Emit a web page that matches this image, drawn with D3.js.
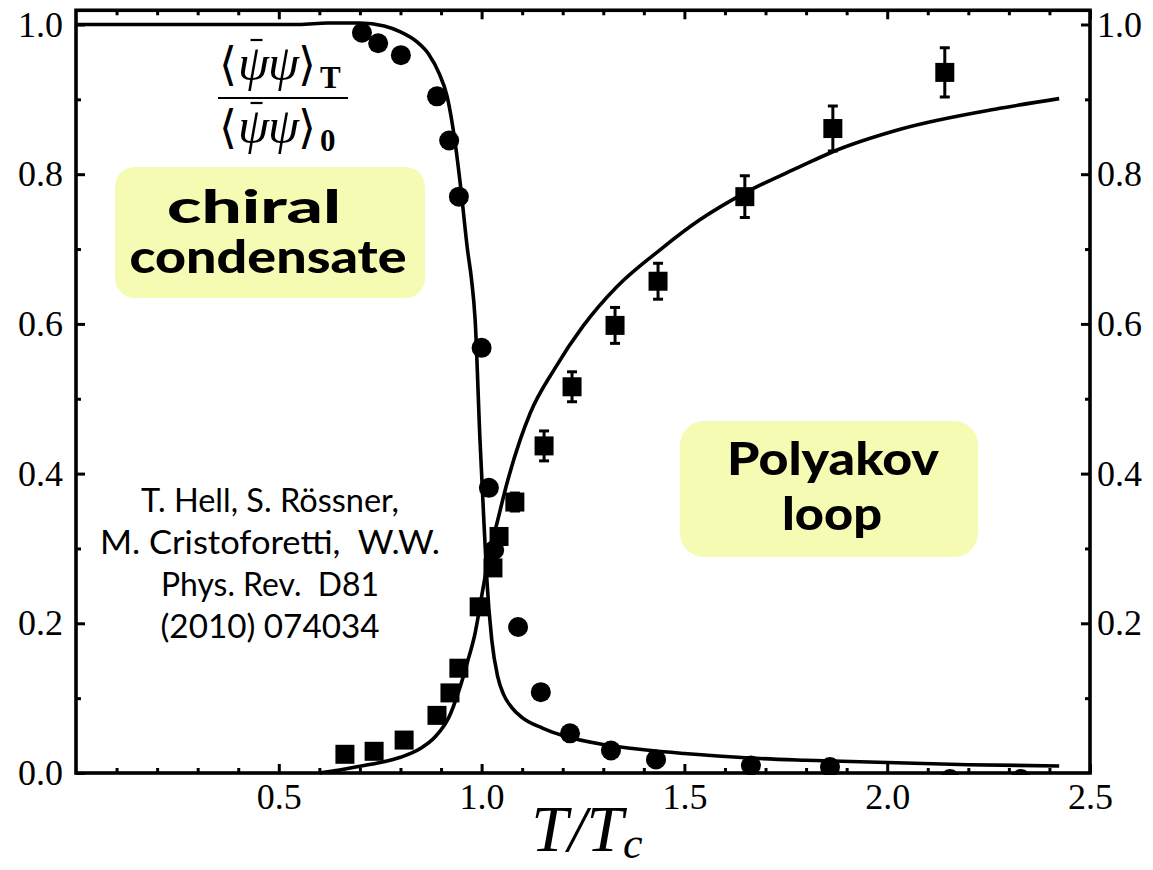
<!DOCTYPE html>
<html>
<head>
<meta charset="utf-8">
<script src="https://cdn.jsdelivr.net/npm/d3@7"></script>
<style>
  body { margin: 0; background: #fff; }
  svg { display: block; }
</style>
</head>
<body>
<svg id="chart" width="1153" height="870"></svg>
<script>
// Lattice data: chiral condensate ratio (circles)
const chiralT     = [0.705, 0.745, 0.801, 0.890, 0.920, 0.944, 1.000, 1.018, 1.031, 1.090, 1.146, 1.218, 1.319, 1.430, 1.664, 1.859, 2.155, 2.330];
const chiralValue = [0.989, 0.975, 0.959, 0.904, 0.845, 0.770, 0.568, 0.381, 0.298, 0.195, 0.108, 0.053, 0.030, 0.018, 0.010, 0.008, -0.008, -0.008];

// Lattice data: Polyakov loop (squares, with error bars)
const polyakovT     = [0.663, 0.735, 0.809, 0.890, 0.922, 0.944, 0.994, 1.028, 1.043, 1.082, 1.154, 1.223, 1.329, 1.435, 1.649, 1.866, 2.142];
const polyakovValue = [0.025, 0.029, 0.044, 0.077, 0.107, 0.140, 0.222, 0.274, 0.316, 0.362, 0.437, 0.516, 0.598, 0.657, 0.770, 0.861, 0.936];
const polyakovErr   = [0, 0, 0, 0, 0, 0, 0, 0, 0.008, 0.012, 0.020, 0.020, 0.024, 0.024, 0.028, 0.030, 0.033];

// Model curves (PNJL)
const chiralCurveT     = [0.00, 0.55, 0.62, 0.70, 0.76, 0.80, 0.84, 0.87, 0.895, 0.915, 0.934, 0.950, 0.965, 0.975, 0.984, 0.996, 1.008, 1.013, 1.025, 1.040, 1.055, 1.075, 1.10, 1.15, 1.20, 1.30, 1.40, 1.50, 1.66, 1.80, 2.00, 2.20, 2.424];
const chiralCurveValue = [1.000, 1.000, 1.002, 1.002, 0.998, 0.990, 0.977, 0.960, 0.935, 0.904, 0.845, 0.775, 0.700, 0.660, 0.606, 0.445, 0.311, 0.258, 0.178, 0.128, 0.104, 0.087, 0.074, 0.060, 0.050, 0.038, 0.031, 0.026, 0.020, 0.017, 0.014, 0.011, 0.0094];

const polyakovCurveT     = [0.60, 0.65, 0.70, 0.75, 0.80, 0.85, 0.885, 0.92, 0.947, 0.965, 0.984, 1.003, 1.021, 1.038, 1.063, 1.095, 1.12, 1.18, 1.25, 1.334, 1.44, 1.538, 1.649, 1.785, 1.866, 2.032, 2.278, 2.424];
const polyakovCurveValue = [0.000, 0.004, 0.009, 0.014, 0.021, 0.033, 0.048, 0.075, 0.115, 0.148, 0.187, 0.245, 0.298, 0.334, 0.388, 0.445, 0.481, 0.540, 0.597, 0.650, 0.699, 0.739, 0.775, 0.810, 0.830, 0.860, 0.888, 0.901];

// Axis ticks
const xTicks      = [0.5, 1.0, 1.5, 2.0, 2.5];
const xMinorTicks = [0.1, 0.2, 0.3, 0.4, 0.6, 0.7, 0.8, 0.9, 1.1, 1.2, 1.3, 1.4, 1.6, 1.7, 1.8, 1.9, 2.1, 2.2, 2.3, 2.4];
const yTicksLeft  = [0.0, 0.2, 0.4, 0.6, 0.8, 1.0];
const yTicksRight = [0.2, 0.4, 0.6, 0.8, 1.0];
const yMinorTicks = [0.1, 0.3, 0.5, 0.7, 0.9];

// Annotations
const authorLines = ["T. Hell, S. Rössner,", "M. Cristoforetti,  W.W.", "Phys. Rev.  D81", "(2010) 074034"];
const chiralLabel = ["chiral", "condensate"];
const polyakovLabel = ["Polyakov", "loop"];

const svg = d3.select("#chart");
const left = 76, right = 1090, bottom = 773;
const x = d3.scaleLinear().domain([0, 2.5]).range([left, right]);
const y = d3.scaleLinear().domain([0, 1]).range([bottom, 24.5]);
const yTop = y(1.019);

const serif = "'Liberation Serif', 'DejaVu Serif', serif";
const sans = "Lato, 'Open Sans', 'DejaVu Sans', sans-serif";

// Yellow label boxes
svg.append("rect").attr("x", 115).attr("y", 167).attr("width", 310).attr("height", 131)
  .attr("rx", 20).attr("fill", "#f5fbb3");
svg.append("rect").attr("x", 680).attr("y", 421).attr("width", 298).attr("height", 136)
  .attr("rx", 24).attr("fill", "#f5fbb3");

const boldLabel = (lines, centers, baselines, widths, size) => {
  lines.forEach((t, i) => {
    svg.append("text").attr("x", centers[i]).attr("y", baselines[i])
      .attr("text-anchor", "middle")
      .attr("font-family", sans).attr("font-weight", 900).attr("font-size", size)
      .attr("textLength", widths[i]).attr("lengthAdjust", "spacingAndGlyphs")
      .text(t);
  });
};
boldLabel(chiralLabel, [254, 268], [223, 273], [174, 277], 46);
boldLabel(polyakovLabel, [833, 832], [475, 530], [212, 100], 46);

// Reference text
const authorWidths = [258, 340, 218, 219];
authorLines.forEach((t, i) => {
  svg.append("text").attr("x", 270).attr("y", 512 + i * 42)
    .attr("text-anchor", "middle")
    .attr("font-family", sans).attr("font-size", 33)
    .style("white-space", "pre")
    .attr("textLength", authorWidths[i]).attr("lengthAdjust", "spacingAndGlyphs")
    .text(t);
});

// Condensate ratio as a fraction
const frac = svg.append("g");
const fs = 50;
const addTerm = (baseline, sub) => {
  const t = frac.append("text").attr("y", baseline)
    .attr("font-family", serif).attr("font-size", fs);
  t.append("tspan").attr("x", 219).attr("font-family", "'DejaVu Serif', serif").attr("font-size", 46).text("⟨");
  t.append("tspan").attr("x", 238).attr("font-style", "italic").text("ψ");
  t.append("tspan").attr("x", 268).attr("font-style", "italic").text("ψ");
  t.append("tspan").attr("x", 298).attr("font-family", "'DejaVu Serif', serif").attr("font-size", 46).text("⟩");
  t.append("tspan").attr("x", 320).attr("font-weight", "bold").attr("font-size", 31).attr("dy", 8).text(sub);
  const ext = t.node().getExtentOfChar(1);
  const bx = ext.x + ext.width * 0.5 + 3;
  frac.append("line").attr("x1", bx - 6).attr("x2", bx + 6)
    .attr("y1", baseline - 40).attr("y2", baseline - 40)
    .attr("stroke", "#000").attr("stroke-width", 2.2);
  return t;
};
addTerm(80, "T");
addTerm(143, "0");
frac.append("line").attr("x1", 218).attr("x2", 348).attr("y1", 98).attr("y2", 98)
  .attr("stroke", "#000").attr("stroke-width", 2);

// Plot clip
svg.append("clipPath").attr("id", "plotClip").append("rect")
  .attr("x", left).attr("y", yTop).attr("width", right - left).attr("height", bottom + 2 - yTop);
const plot = svg.append("g").attr("clip-path", "url(#plotClip)");

const line = d3.line().x(d => x(d[0])).y(d => y(d[1])).curve(d3.curveMonotoneX);
plot.append("path").datum(chiralCurveT.map((t, i) => [t, chiralCurveValue[i]]))
  .attr("d", line).attr("fill", "none").attr("stroke", "#000").attr("stroke-width", 3.6);
plot.append("path").datum(polyakovCurveT.map((t, i) => [t, polyakovCurveValue[i]]))
  .attr("d", line).attr("fill", "none").attr("stroke", "#000").attr("stroke-width", 3.6);

// Error bars
const pData = polyakovT.map((t, i) => ({ t, v: polyakovValue[i], e: polyakovErr[i] })).filter(d => d.e > 0);
const eb = plot.append("g").attr("stroke", "#000").attr("stroke-width", 3);
eb.selectAll("line.bar").data(pData).join("line").attr("class", "bar")
  .attr("x1", d => x(d.t)).attr("x2", d => x(d.t))
  .attr("y1", d => y(d.v - d.e)).attr("y2", d => y(d.v + d.e));
eb.selectAll("line.capTop").data(pData).join("line").attr("class", "capTop")
  .attr("x1", d => x(d.t) - 5).attr("x2", d => x(d.t) + 5)
  .attr("y1", d => y(d.v + d.e)).attr("y2", d => y(d.v + d.e));
eb.selectAll("line.capBot").data(pData).join("line").attr("class", "capBot")
  .attr("x1", d => x(d.t) - 5).attr("x2", d => x(d.t) + 5)
  .attr("y1", d => y(d.v - d.e)).attr("y2", d => y(d.v - d.e));

// Squares
const sq = 19;
plot.selectAll("rect.pl").data(polyakovT.map((t, i) => [t, polyakovValue[i]])).join("rect")
  .attr("class", "pl")
  .attr("x", d => x(d[0]) - sq / 2).attr("y", d => y(d[1]) - sq / 2)
  .attr("width", sq).attr("height", sq).attr("fill", "#000");

// Circles
plot.selectAll("circle.cc").data(chiralT.map((t, i) => [t, chiralValue[i]])).join("circle")
  .attr("class", "cc")
  .attr("cx", d => x(d[0])).attr("cy", d => y(d[1])).attr("r", 10).attr("fill", "#000");

// Axes
const styleAxis = g => {
  g.select(".domain").remove();
  g.selectAll(".tick line").attr("stroke", "#000").attr("stroke-width", 3);
  g.selectAll(".tick text").attr("font-family", serif).attr("font-size", 36).attr("fill", "#000");
};
const fmt = d3.format(".1f");

svg.append("g").attr("transform", `translate(0,${bottom})`)
  .call(d3.axisBottom(x).tickValues(xTicks).tickSize(-9).tickPadding(10).tickFormat(fmt)).call(styleAxis);
svg.append("g").attr("transform", `translate(0,${bottom})`)
  .call(d3.axisBottom(x).tickValues(xMinorTicks).tickSize(-5).tickFormat("")).call(styleAxis);
svg.append("g").attr("transform", `translate(0,${yTop})`)
  .call(d3.axisTop(x).tickValues(xTicks).tickSize(-9).tickFormat("")).call(styleAxis);
svg.append("g").attr("transform", `translate(0,${yTop})`)
  .call(d3.axisTop(x).tickValues(xMinorTicks).tickSize(-5).tickFormat("")).call(styleAxis);

svg.append("g").attr("transform", `translate(${left},0)`)
  .call(d3.axisLeft(y).tickValues(yTicksLeft).tickSize(-9).tickPadding(13).tickFormat(fmt)).call(styleAxis);
svg.append("g").attr("transform", `translate(${left},0)`)
  .call(d3.axisLeft(y).tickValues(yMinorTicks).tickSize(-5).tickFormat("")).call(styleAxis);
svg.append("g").attr("transform", `translate(${right},0)`)
  .call(d3.axisRight(y).tickValues(yTicksRight).tickSize(-9).tickPadding(7).tickFormat(fmt)).call(styleAxis);
svg.append("g").attr("transform", `translate(${right},0)`)
  .call(d3.axisRight(y).tickValues(yMinorTicks).tickSize(-5).tickFormat("")).call(styleAxis);

// Frame
svg.append("rect").attr("x", left).attr("y", yTop).attr("width", right - left).attr("height", bottom - yTop)
  .attr("fill", "none").attr("stroke", "#000").attr("stroke-width", 3.6);

// Axis title
const xt = svg.append("text").attr("x", (left + right) / 2 + 4).attr("y", 851)
  .attr("text-anchor", "middle").attr("font-family", serif).attr("font-size", 66).attr("font-style", "italic");
xt.append("tspan").text("T/T");
xt.append("tspan").attr("font-size", 44).attr("dy", 7).text("c");
</script>
</body>
</html>
